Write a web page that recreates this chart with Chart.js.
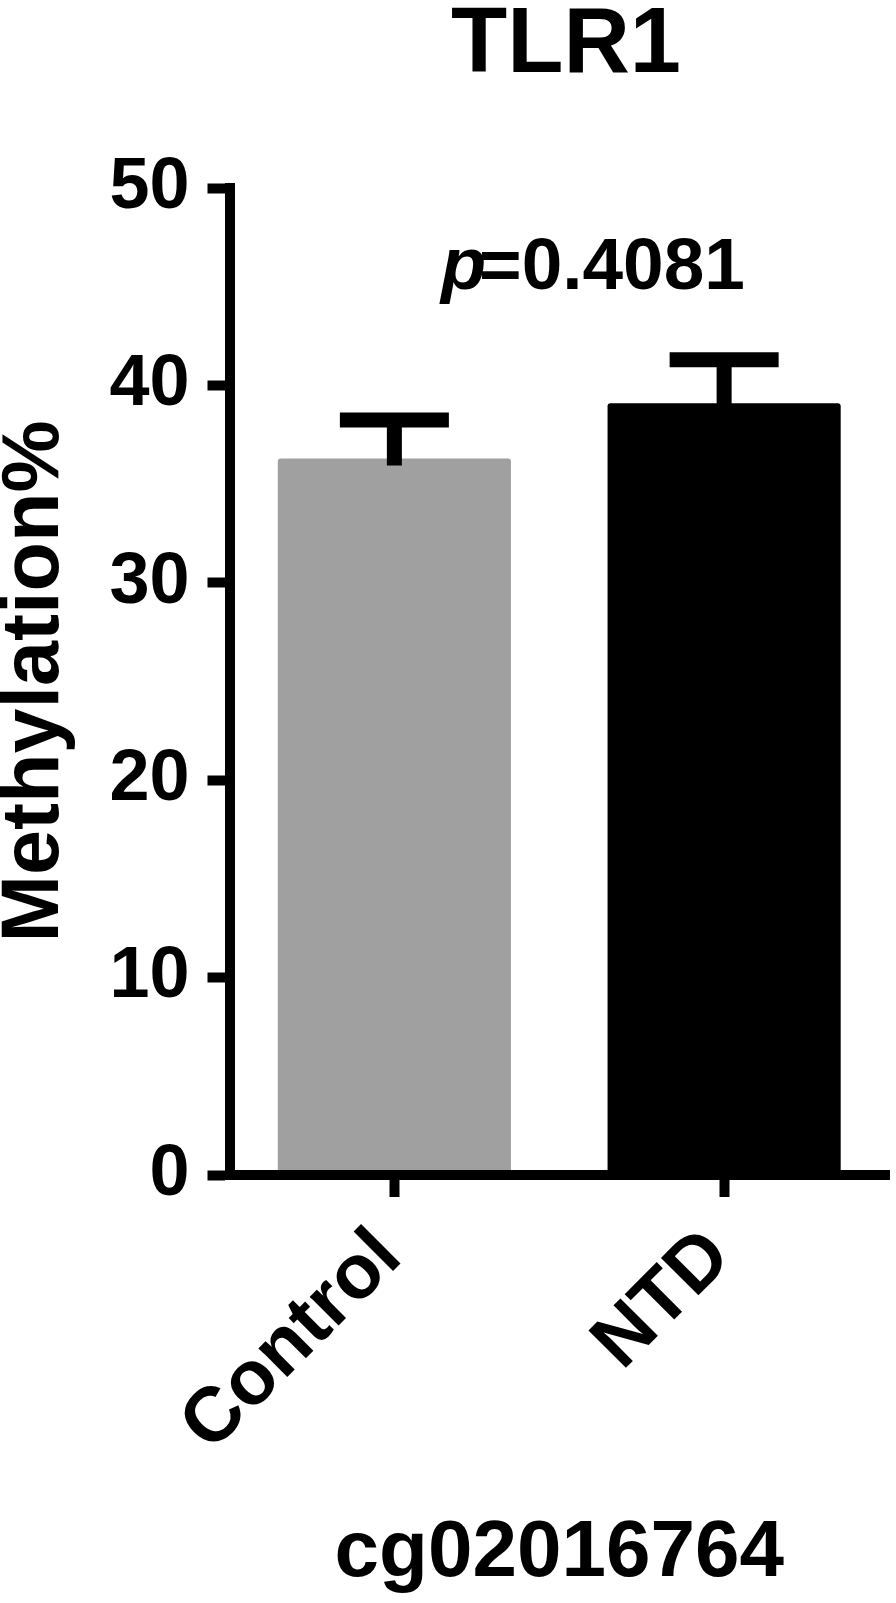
<!DOCTYPE html>
<html lang="en">
<head>
<meta charset="UTF-8"/>
<title>TLR1 cg02016764</title>
<script src="https://cdn.jsdelivr.net/npm/chart.js"></script>
<style>
  * { box-sizing: border-box; margin: 0; padding: 0; }
  html, body { background: #fff; width: 896px; height: 1603px; overflow: hidden; }
  canvas { display: block; }
</style>
</head>
<body>
<canvas id="chart" width="896" height="1603"></canvas>
<script>
// values (mean + SEM, only the upper whisker is drawn)
const groups    = ['Control', 'NTD'];
const meanPct   = [36.3, 39.1];
const semPct    = [1.95, 2.2];
const barColors = ['#a0a0a0', '#000000'];
const yTicks    = [0, 10, 20, 30, 40, 50];

const geneName = 'TLR1';
const probeId  = 'cg02016764';
const pValue   = '0.4081';

const FONT = "'Liberation Sans', Arial, Helvetica, sans-serif";

// Prism-style error bar: stem + cap above the bar
const errorBars = {
  id: 'errorBars',
  afterDatasetsDraw(chart) {
    const { ctx, scales: { y } } = chart;
    const meta = chart.getDatasetMeta(0);
    ctx.save();
    ctx.strokeStyle = '#000';
    ctx.lineWidth = 15;
    ctx.lineCap = 'butt';
    meta.data.forEach((bar, i) => {
      const top  = y.getPixelForValue(meanPct[i] + semPct[i]);
      const base = y.getPixelForValue(meanPct[i]);
      ctx.beginPath();
      ctx.moveTo(bar.x, base + 7);
      ctx.lineTo(bar.x, top);
      ctx.moveTo(bar.x - 54.5, top);
      ctx.lineTo(bar.x + 54.5, top);
      ctx.stroke();
    });
    ctx.restore();
  }
};

// gene title and p value
const annotations = {
  id: 'annotations',
  afterDraw(chart) {
    const { ctx } = chart;
    ctx.save();
    ctx.fillStyle = '#000';
    ctx.textBaseline = 'alphabetic';
    ctx.textAlign = 'center';
    ctx.font = `bold 92px ${FONT}`;
    ctx.fillText(geneName, 566, 72);

    ctx.textAlign = 'left';
    ctx.font = `italic bold 74px ${FONT}`;
    ctx.fillText('p', 441, 289);
    ctx.font = `bold 73px ${FONT}`;
    ctx.fillText('=' + pValue, 479, 289);
    ctx.restore();
  }
};

new Chart(document.getElementById('chart'), {
  type: 'bar',
  data: {
    labels: groups,
    datasets: [{
      data: meanPct,
      backgroundColor: barColors,
      borderWidth: 0,
      barPercentage: 0.707,
      categoryPercentage: 1,
      borderRadius: 3,
      borderSkipped: 'start'
    }]
  },
  options: {
    responsive: false,
    animation: false,
    layout: { padding: { top: 188, right: 7, bottom: 0, left: 0 } },
    plugins: {
      legend: { display: false },
      tooltip: { enabled: false },
      title: { display: false }
    },
    scales: {
      x: {
        grid: { drawOnChartArea: false, offset: false, tickLength: 22, tickWidth: 10, tickColor: '#000' },
        border: { color: '#000', width: 10, z: 1 },
        ticks: {
          color: '#000',
          font: { family: FONT, weight: 'bold', size: 77 },
          minRotation: 45, maxRotation: 45,
          padding: 15,
          labelOffset: -5
        },
        title: {
          display: true, text: probeId, color: '#000',
          font: { family: FONT, weight: 'bold', size: 80, lineHeight: 1 },
          padding: { top: 0, bottom: 9 }
        },
        afterFit: s => { s.height = 428; }
      },
      y: {
        min: 0, max: 50,
        afterBuildTicks: s => { s.ticks = yTicks.map(v => ({ value: v })); },
        grid: { drawOnChartArea: false, tickLength: 22, tickWidth: 10, tickColor: '#000' },
        border: { color: '#000', width: 10, z: 1 },
        ticks: {
          color: '#000',
          font: { family: FONT, weight: 'bold', size: 72 },
          padding: 18
        },
        title: {
          display: true, text: 'Methylation%', color: '#000',
          font: { family: FONT, weight: 'bold', size: 81, lineHeight: 0.875 },
          padding: 0
        },
        afterFit: s => { s.width = 229.5; }
      }
    }
  },
  plugins: [errorBars, annotations]
});
</script>
</body>
</html>
